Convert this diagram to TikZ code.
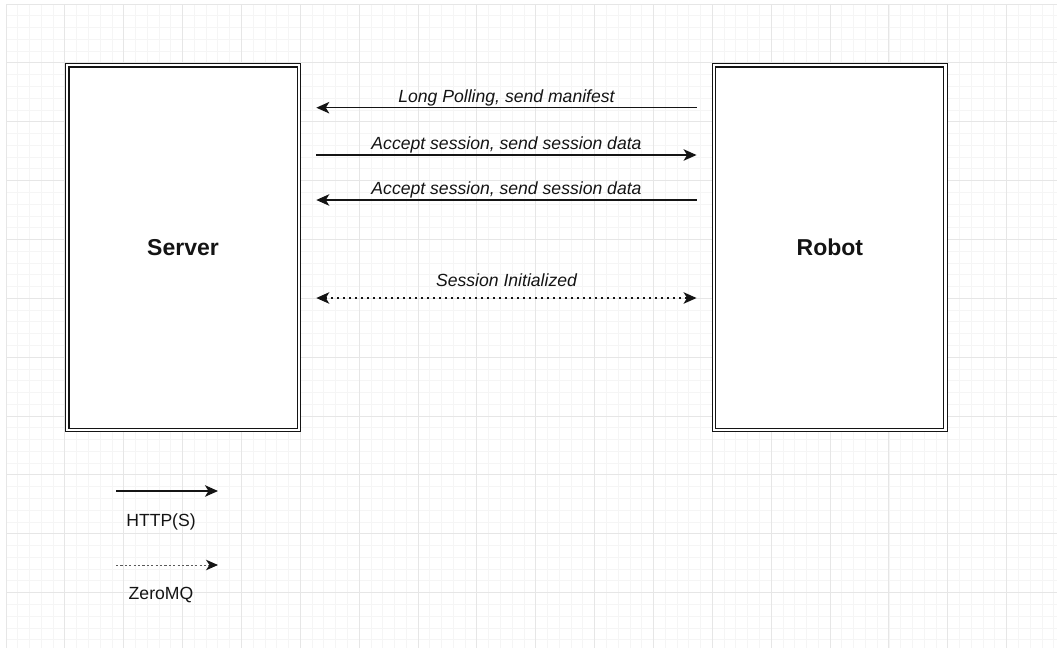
\documentclass[tikz,border=0pt]{standalone}
\usepackage{fontspec}
\setmainfont{Liberation Sans}
\usetikzlibrary{arrows.meta}
\definecolor{gridmajor}{HTML}{E6E6E6}
\definecolor{gridminor}{HTML}{F5F5F5}
\definecolor{ink}{HTML}{141414}
\begin{document}
\begin{tikzpicture}[x=1pt,y=-1pt,
  box/.style={draw=ink, double=white, line width=1.1pt, double distance=2.3pt, fill=white,
    minimum width=231.5pt, minimum height=364.5pt, inner sep=0pt,
    font=\fontsize{23}{27}\selectfont\bfseries, text=ink},
  lbl/.style={font=\fontsize{17.6}{21}\selectfont\itshape, text=ink, inner sep=0pt, anchor=base},
  leg/.style={font=\fontsize{17.6}{21}\selectfont, text=ink, inner sep=0pt, anchor=base},
  tip/.style={Stealth[length=13pt,width=11.5pt,inset=3.5pt]},
  arr/.style={ink, line width=1.5pt, -{Stealth[length=13pt,width=11.5pt,inset=3.5pt]}},
  dotarr/.style={ink, line width=1.5pt, dash pattern=on 1.5pt off 4.5pt,
    {Stealth[length=13pt,width=11.5pt,inset=3.5pt]}-{Stealth[length=13pt,width=11.5pt,inset=3.5pt]}},
  legdot/.style={black!65, line width=1pt, dash pattern=on 2.2pt off 2.2pt,
    -{Stealth[length=12pt,width=10.5pt,inset=3.5pt,ink]}},
  gap/.style={shorten <=17pt, shorten >=17pt}
]
\useasboundingbox (0,0) rectangle (1057,648);
\fill[white] (0,0) rectangle (1057,648);
% grid
\foreach \i in {0,...,89}{
  \draw[gridminor, line width=0.8pt] ({6+\i*11.772},4) -- ({6+\i*11.772},648);
}
\foreach \j in {0,...,54}{
  \draw[gridminor, line width=0.8pt] (6,{4+\j*11.772}) -- (1057,{4+\j*11.772});
}
\foreach \i in {0,...,17}{
  \draw[gridmajor, line width=0.9pt] ({6+\i*58.86},4) -- ({6+\i*58.86},648);
}
\foreach \j in {0,...,10}{
  \draw[gridmajor, line width=0.9pt] (6,{4+\j*58.86}) -- (1057,{4+\j*58.86});
}
% boxes
\node[box] (server) at (183,247.5) {Server};
\node[box] (robot) at (829.85,247.5) {Robot};
% arrow rows
\coordinate (r1) at (0,107.7);
\coordinate (r2) at (0,155);
\coordinate (r3) at (0,200);
\coordinate (r4) at (0,298);
\draw[arr, gap] (robot.west |- r1) -- (server.east |- r1);
\draw[arr, gap] (server.east |- r2) -- (robot.west |- r2);
\draw[arr, gap] (robot.west |- r3) -- (server.east |- r3);
\draw[dotarr, gap] (server.east |- r4) -- (robot.west |- r4);
\node[lbl] (l1) at (506.5,102) {Long Polling, send manifest};
\node[lbl] (l2) at (506.5,149.3) {Accept session, send session data};
\node[lbl] (l3) at (506.5,194.3) {Accept session, send session data};
\node[lbl] (l4) at (506.5,286.7) {Session Initialized};
% legend
\coordinate (h1) at (116,491);
\coordinate (h2) at (218,491);
\coordinate (z1) at (116,565);
\coordinate (z2) at (218,565);
\draw[arr] (h1) -- (h2);
\draw[legdot] (z1) -- (z2);
\node[leg] (httpl) at (161,526.7) {HTTP(S)};
\node[leg] (zmql) at (161,599) {ZeroMQ};
\end{tikzpicture}
\end{document}
